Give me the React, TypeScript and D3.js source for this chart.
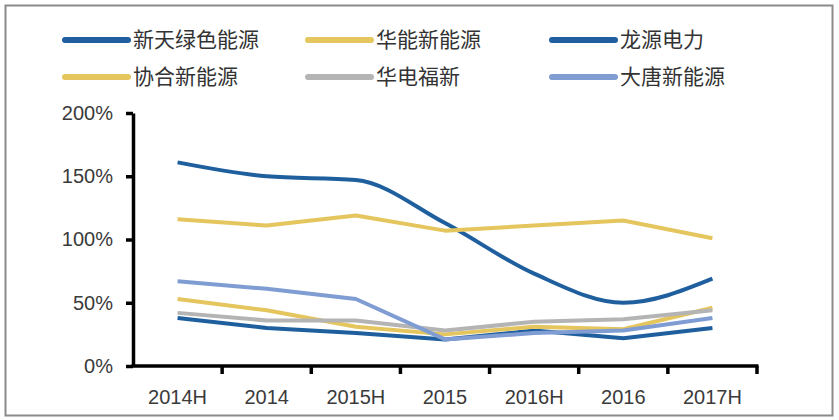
import React, { useEffect, useRef } from 'react';
import * as d3 from 'd3';

const categories = ['2014H', '2014', '2015H', '2015', '2016H', '2016', '2017H'];
const seriesNames = ['新天绿色能源', '华能新能源', '龙源电力', '协合新能源', '华电福新', '大唐新能源'];
const seriesColors = ['#1f5f9e', '#e5c55e', '#1f5f9e', '#e5c55e', '#b4b4b4', '#7f9dd2'];
const xintian = [161, 150, 147, 113, 73, 50, 69];
const huaneng = [116, 111, 119, 107, 111, 115, 101];
const longyuan = [38, 30, 26, 21, 28, 22, 30];
const xiehe = [53, 44, 31, 25, 31, 29, 46];
const huadian = [42, 36, 36, 28, 35, 37, 44];
const datang = [67, 61, 53, 21, 26, 28, 38];
const seriesValues = [xintian, huaneng, longyuan, xiehe, huadian, datang];
const yTicks = [0, 50, 100, 150, 200];

export default function App() {
  const svgRef = useRef<SVGSVGElement>(null);

  useEffect(() => {
    if (!svgRef.current) return;
    const svg = d3.select(svgRef.current);
    svg.selectAll('*').remove();

    const left = 133, right = 757, top = 113, bottom = 366;

    // outer frame
    svg.append('rect')
      .attr('x', 5.5).attr('y', 5.5)
      .attr('width', 827).attr('height', 410)
      .attr('fill', 'white')
      .attr('stroke', '#8a8a8a')
      .attr('stroke-width', 2);

    const x = d3.scaleBand().domain(categories).range([left, right]);
    const y = d3.scaleLinear().domain([0, 200]).range([bottom, top]);

    // y axis
    const yAxis = svg.append('g')
      .attr('transform', `translate(${left},0)`)
      .call(d3.axisLeft(y).tickValues(yTicks).tickSize(7).tickSizeOuter(0).tickFormat((d) => `${d}%`));
    yAxis.select('.domain').attr('stroke', '#000').attr('stroke-width', 3.5);
    yAxis.selectAll('.tick line').attr('stroke', '#000').attr('stroke-width', 3.5);
    yAxis.selectAll('text')
      .attr('x', -20)
      .style('font-family', '"Liberation Sans", Arial, sans-serif')
      .style('font-size', '20px')
      .attr('fill', '#3a3a3a');

    // x axis with ticks at band boundaries
    const xAxis = svg.append('g').attr('transform', `translate(0,${bottom})`);
    xAxis.append('line')
      .attr('x1', left - 1.5).attr('x2', right + 1.5)
      .attr('stroke', '#000').attr('stroke-width', 3.5);
    const bounds = categories.map((c) => (x(c) as number)).concat([right]);
    xAxis.selectAll('line.tk')
      .data(bounds.slice(1))
      .join('line')
      .attr('class', 'tk')
      .attr('x1', (d) => d).attr('x2', (d) => d)
      .attr('y1', 0).attr('y2', 8)
      .attr('stroke', '#000').attr('stroke-width', 3.5);
    xAxis.selectAll('text')
      .data(categories)
      .join('text')
      .attr('x', (d) => (x(d) as number) + x.bandwidth() / 2)
      .attr('y', 38)
      .attr('text-anchor', 'middle')
      .style('font-family', '"Liberation Sans", Arial, sans-serif')
      .style('font-size', '20px')
      .attr('fill', '#3a3a3a')
      .text((d) => d);

    // lines (only the first series is smoothed in the source)
    const cx = (i: number) => (x(categories[i]) as number) + x.bandwidth() / 2;
    seriesValues.forEach((vals, si) => {
      const line = d3.line<number>()
        .x((_, i) => cx(i))
        .y((d) => y(d))
        .curve(si === 0 ? d3.curveMonotoneX : d3.curveLinear);
      svg.append('path')
        .datum(vals)
        .attr('fill', 'none')
        .attr('stroke', seriesColors[si])
        .attr('stroke-width', 4)
        .attr('stroke-linejoin', 'round')
        .attr('d', line);
    });

    // legend
    const legendX = [65, 308, 552];
    const legendY = [40, 77];
    seriesNames.forEach((name, i) => {
      const lx = legendX[i % 3];
      const ly = legendY[Math.floor(i / 3)];
      const g = svg.append('g').attr('transform', `translate(${lx},${ly})`);
      g.append('line')
        .attr('x1', 0).attr('x2', 63)
        .attr('stroke', seriesColors[i])
        .attr('stroke-width', 6)
        .attr('stroke-linecap', 'round');
      g.append('text')
        .attr('x', 68)
        .attr('y', 7)
        .style('font-family', '"Noto Sans CJK SC", sans-serif')
        .style('font-size', '21px')
        .attr('fill', '#333')
        .text(name);
    });
  }, []);

  return (
    <svg
      ref={svgRef}
      width={839}
      height={420}
      style={{ position: 'absolute', left: 0, top: 0, background: '#fff' }}
    />
  );
}
